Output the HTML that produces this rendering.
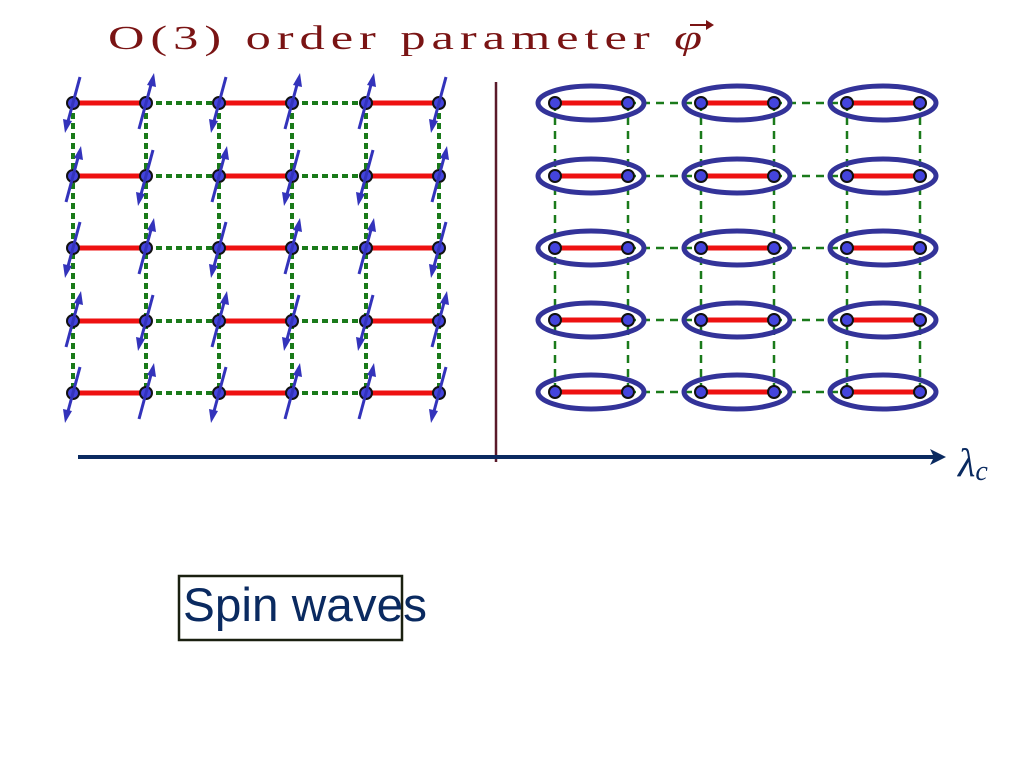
<!DOCTYPE html>
<html><head><meta charset="utf-8"><style>
html,body{margin:0;padding:0;background:#fff;width:1024px;height:768px;overflow:hidden}
</style></head><body>
<svg width="1024" height="768" viewBox="0 0 1024 768" xmlns="http://www.w3.org/2000/svg">
<defs>
<g id="up"><line x1="-7" y1="26" x2="6" y2="-22" stroke="#3333bb" stroke-width="3"/><polygon points="8,-30 1,-18 10,-16" fill="#3333bb"/></g>
<g id="dn"><line x1="7" y1="-26" x2="-6" y2="22" stroke="#3333bb" stroke-width="3"/><polygon points="-8,30 -1,18 -10,16" fill="#3333bb"/></g>
<circle id="dot" r="6" fill="#4444dd" stroke="#111" stroke-width="2"/>
<g id="row">
<line x1="73" y1="0" x2="146" y2="0" stroke="#ee1111" stroke-width="5"/>
<line x1="219" y1="0" x2="292" y2="0" stroke="#ee1111" stroke-width="5"/>
<line x1="366" y1="0" x2="439" y2="0" stroke="#ee1111" stroke-width="5"/>
<line x1="146" y1="0" x2="219" y2="0" stroke="#1a7a1a" stroke-width="4" stroke-dasharray="6,4"/>
<line x1="292" y1="0" x2="366" y2="0" stroke="#1a7a1a" stroke-width="4" stroke-dasharray="6,4"/>
<use href="#dot" x="73"/><use href="#dot" x="146"/><use href="#dot" x="219"/><use href="#dot" x="292"/><use href="#dot" x="366"/><use href="#dot" x="439"/>
</g>
<g id="rowA"><use href="#dn" x="73"/><use href="#up" x="146"/><use href="#dn" x="219"/><use href="#up" x="292"/><use href="#up" x="366"/><use href="#dn" x="439"/></g>
<g id="rowB"><use href="#up" x="73"/><use href="#dn" x="146"/><use href="#up" x="219"/><use href="#dn" x="292"/><use href="#dn" x="366"/><use href="#up" x="439"/></g>
<g id="rrow">
<line x1="628" y1="0" x2="701" y2="0" stroke="#1a7a1a" stroke-width="2.5" stroke-dasharray="8,6"/>
<line x1="774" y1="0" x2="847" y2="0" stroke="#1a7a1a" stroke-width="2.5" stroke-dasharray="8,6"/>
<g fill="none" stroke="#333399" stroke-width="5">
<ellipse cx="591" cy="0" rx="53" ry="17"/><ellipse cx="737" cy="0" rx="53" ry="17"/><ellipse cx="883" cy="0" rx="53" ry="17"/></g>
<g stroke="#ee1111" stroke-width="5"><line x1="555" y1="0" x2="628" y2="0"/><line x1="701" y1="0" x2="774" y2="0"/><line x1="847" y1="0" x2="920" y2="0"/></g>
<use href="#dot" x="555"/><use href="#dot" x="628"/><use href="#dot" x="701"/><use href="#dot" x="774"/><use href="#dot" x="847"/><use href="#dot" x="920"/>
</g>
</defs>
<text x="108" y="49" font-family="Liberation Serif, serif" font-size="34" fill="#7a1414" letter-spacing="4" textLength="600" lengthAdjust="spacingAndGlyphs">O(3) order parameter <tspan font-style="italic">φ</tspan></text>
<line x1="690" y1="25" x2="710" y2="25" stroke="#7a1414" stroke-width="2"/>
<polygon points="714,25 706,20 706,30" fill="#7a1414"/>

<g stroke="#1a7a1a" stroke-width="4" stroke-dasharray="6,4">
<line x1="73" y1="103" x2="73" y2="393"/><line x1="146" y1="103" x2="146" y2="393"/><line x1="219" y1="103" x2="219" y2="393"/><line x1="292" y1="103" x2="292" y2="393"/><line x1="366" y1="103" x2="366" y2="393"/><line x1="439" y1="103" x2="439" y2="393"/>
</g>
<use href="#row" y="103"/><use href="#rowA" y="103"/>
<use href="#row" y="176"/><use href="#rowB" y="176"/>
<use href="#row" y="248"/><use href="#rowA" y="248"/>
<use href="#row" y="321"/><use href="#rowB" y="321"/>
<use href="#row" y="393"/><use href="#rowA" y="393"/>

<g stroke="#1a7a1a" stroke-width="2.5" stroke-dasharray="8,6">
<line x1="555" y1="103" x2="555" y2="392"/><line x1="628" y1="103" x2="628" y2="392"/><line x1="701" y1="103" x2="701" y2="392"/><line x1="774" y1="103" x2="774" y2="392"/><line x1="847" y1="103" x2="847" y2="392"/><line x1="920" y1="103" x2="920" y2="392"/>
</g>
<use href="#rrow" y="103"/><use href="#rrow" y="176"/><use href="#rrow" y="248"/><use href="#rrow" y="320"/><use href="#rrow" y="392"/>

<line x1="496" y1="82" x2="496" y2="462" stroke="#5a1a2a" stroke-width="2.5"/>
<line x1="78" y1="457" x2="935" y2="457" stroke="#0a2a60" stroke-width="4"/>
<polygon points="946,457 930,449 934,457 930,465" fill="#0a2a60"/>
<text x="958" y="476" font-family="Liberation Serif, serif" font-style="italic" font-size="40" fill="#0a2a60">λ<tspan font-size="28" dy="4">c</tspan></text>

<rect x="179" y="576" width="223" height="64" fill="none" stroke="#1a2010" stroke-width="2.5"/>
<text x="183" y="621" font-family="Liberation Sans, sans-serif" font-size="47" fill="#0a2a60" textLength="244" lengthAdjust="spacingAndGlyphs">Spin waves</text>
</svg>
</body></html>
